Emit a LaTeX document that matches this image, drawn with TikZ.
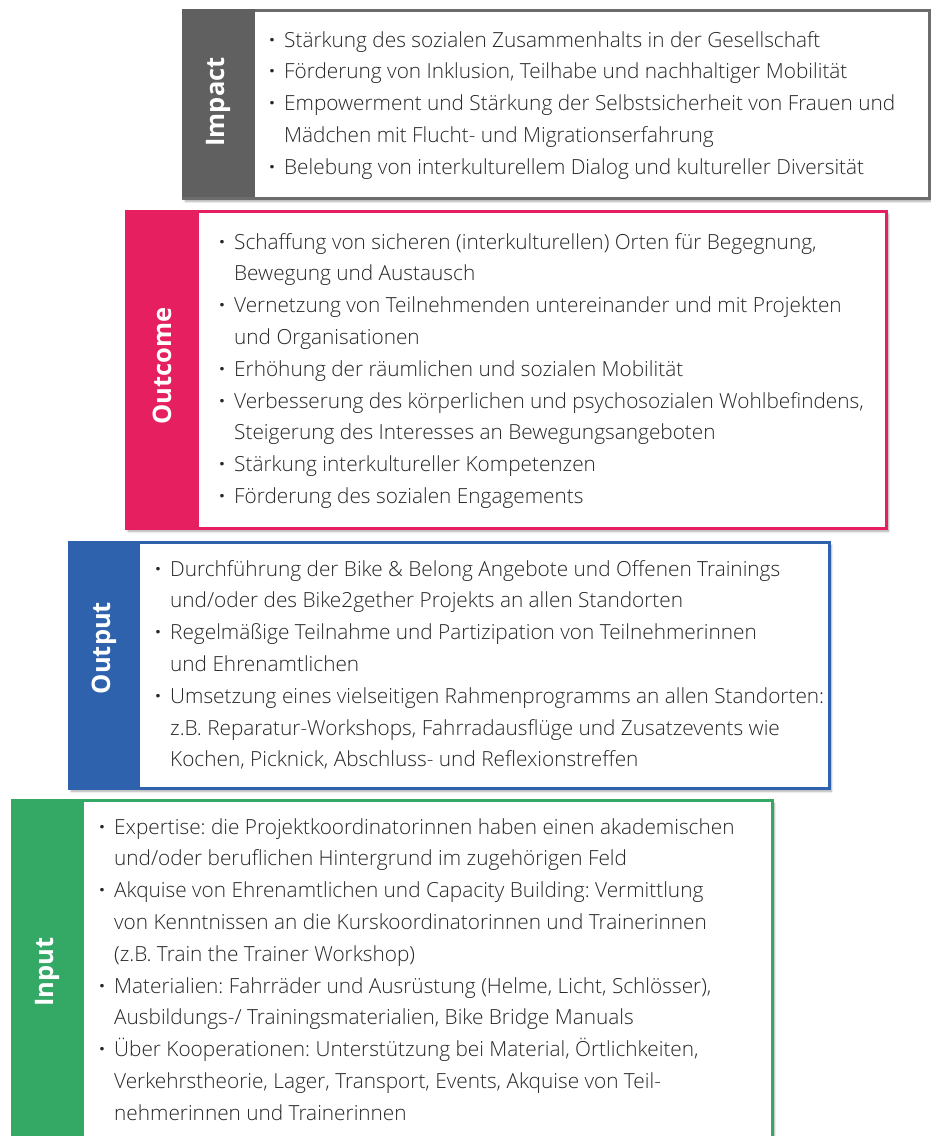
\documentclass[tikz,border=0pt]{standalone}
\usepackage{fontspec}
\IfFontExistsTF{Open Sans Light}{%
  \setmainfont{Open Sans Light}[BoldFont=Open Sans Bold]}{%
  \setmainfont{Open Sans}}
\usetikzlibrary{shadows.blur}
\definecolor{impactgray}{HTML}{606060}
\definecolor{impactline}{HTML}{6C6C6C}
\definecolor{outcomepink}{HTML}{E61F60}
\definecolor{outputblue}{HTML}{2F62AD}
\definecolor{inputgreen}{HTML}{34A966}
\definecolor{bodytext}{HTML}{262626}
\frenchspacing

\begin{document}
\begin{tikzpicture}[x=1pt,y=-1pt,
    frame/.style={
      draw=#1,
      line width=2.5pt,
      fill=white,
      anchor=north west,
      inner sep=0pt,
      blur shadow={shadow xshift=2pt,shadow yshift=-3pt,shadow blur steps=8,shadow opacity=35},
    },
    label/.style={
      rotate=90,
      text=white,
      font=\fontsize{25.5}{30}\selectfont\bfseries,
    },
    body/.style={
      anchor=base west,
      inner sep=0pt,
      text=bodytext,
      font=\fontsize{20.8}{31.8}\selectfont,
    },
  ]
  \useasboundingbox (0,0) rectangle (931,1136);

  % impact
  \node[frame=impactline,minimum width=746pt,minimum height=188pt] (impact) at (182,9) {};
  \fill[impactgray] (impact.north west) rectangle ++(73,188);
  \node[label] (impactlbl) at (218.5,102) {Impact};
  \node[body] (impacttxt) at (269,47) {\begin{tabular}[t]{@{}p{15pt}@{}l@{}}
    \textbf{·} & Stärkung des sozialen Zusammenhalts in der Gesellschaft\\
    \textbf{·} & Förderung von Inklusion, Teilhabe und nachhaltiger Mobilität\\
    \textbf{·} & Empowerment und Stärkung der Selbstsicherheit von Frauen und\\
      & Mädchen mit Flucht- und Migrationserfahrung\\
    \textbf{·} & Belebung von interkulturellem Dialog und kultureller Diversität
  \end{tabular}};

  % outcome
  \node[frame=outcomepink,minimum width=760pt,minimum height=317pt] (outcome) at (125,210) {};
  \fill[outcomepink] (outcome.north west) rectangle ++(74,317);
  \node[label] (outcomelbl) at (162,366) {Outcome};
  \node[body] (outcometxt) at (219,249) {\begin{tabular}[t]{@{}p{15pt}@{}l@{}}
    \textbf{·} & Schaffung von sicheren (interkulturellen) Orten für Begegnung,\\
      & Bewegung und Austausch\\
    \textbf{·} & Vernetzung von Teilnehmenden untereinander und mit Projekten\\
      & und Organisationen\\
    \textbf{·} & Erhöhung der räumlichen und sozialen Mobilität\\
    \textbf{·} & Verbesserung des körperlichen und psychosozialen Wohlbefindens,\\
      & Steigerung des Interesses an Bewegungsangeboten\\
    \textbf{·} & Stärkung interkultureller Kompetenzen\\
    \textbf{·} & Förderung des sozialen Engagements
  \end{tabular}};

  % output
  \node[frame=outputblue,minimum width=760pt,minimum height=246pt] (output) at (68,541) {};
  \fill[outputblue] (output.north west) rectangle ++(72,246);
  \node[label] (outputlbl) at (104,648) {Output};
  \node[body] (outputtxt) at (155,576) {\begin{tabular}[t]{@{}p{15pt}@{}l@{}}
    \textbf{·} & Durchführung der Bike \& Belong Angebote und Offenen Trainings\\
      & und/oder des Bike2gether Projekts an allen Standorten\\
    \textbf{·} & Regelmäßige Teilnahme und Partizipation von Teilnehmerinnen\\
      & und Ehrenamtlichen\\
    \textbf{·} & Umsetzung eines vielseitigen Rahmenprogramms an allen Standorten:\\
      & z.B. Reparatur-Workshops, Fahrradausflüge und Zusatzevents wie\\
      & Kochen, Picknick, Abschluss- und Reflexionstreffen
  \end{tabular}};

  % input
  \node[frame=inputgreen,minimum width=760pt,minimum height=350pt] (input) at (11,799) {};
  \fill[inputgreen] (input.north west) rectangle ++(73,350);
  \node[label] (inputlbl) at (47.5,972) {Input};
  \node[body] (inputtxt) at (99,834) {\begin{tabular}[t]{@{}p{15pt}@{}l@{}}
    \textbf{·} & Expertise: die Projektkoordinatorinnen haben einen akademischen\\
      & und/oder beruflichen Hintergrund im zugehörigen Feld\\
    \textbf{·} & Akquise von Ehrenamtlichen und Capacity Building: Vermittlung\\
      & von Kenntnissen an die Kurskoordinatorinnen und Trainerinnen\\
      & (z.B. Train the Trainer Workshop)\\
    \textbf{·} & Materialien: Fahrräder und Ausrüstung (Helme, Licht, Schlösser),\\
      & Ausbildungs-/ Trainingsmaterialien, Bike Bridge Manuals\\
    \textbf{·} & Über Kooperationen: Unterstützung bei Material, Örtlichkeiten,\\
      & Verkehrstheorie, Lager, Transport, Events, Akquise von Teil-\\
      & nehmerinnen und Trainerinnen
  \end{tabular}};
\end{tikzpicture}
\end{document}
